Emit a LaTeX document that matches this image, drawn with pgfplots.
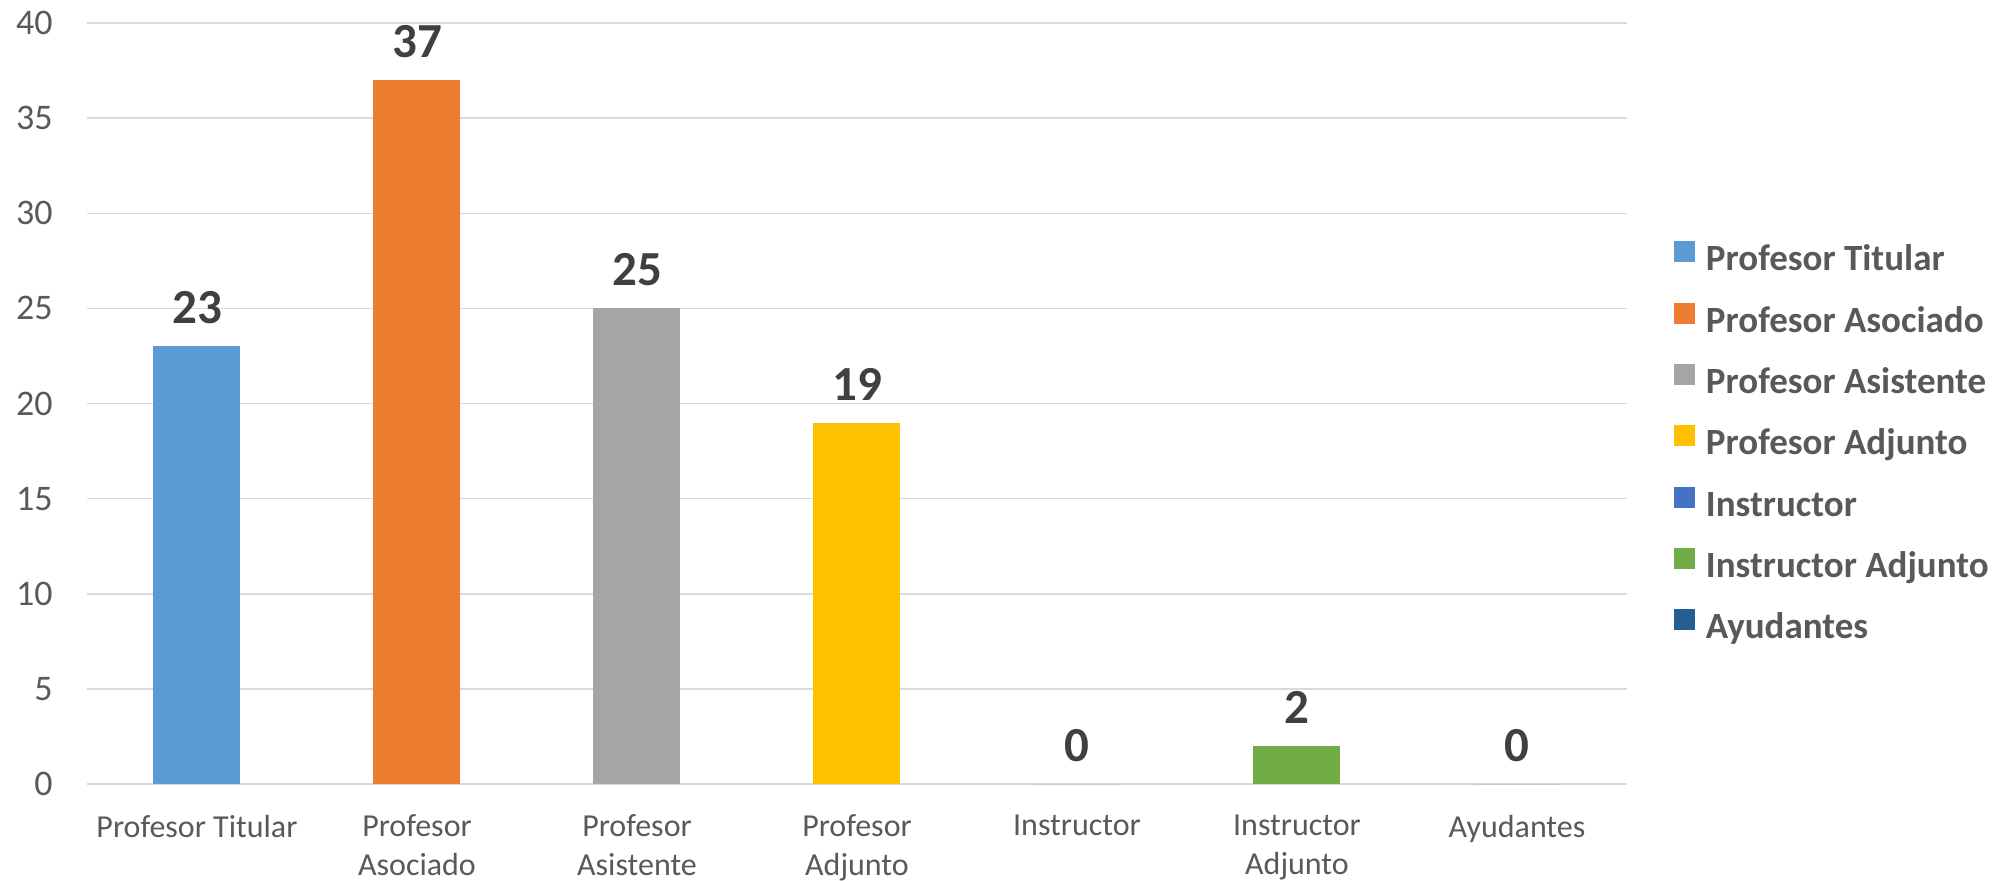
\documentclass[border=0pt]{standalone}
\usepackage{pgfplots}
\pgfplotsset{compat=1.18}
\usepackage{fontspec}
\setmainfont{Carlito}
\definecolor{c1}{HTML}{5B9BD5}
\definecolor{c2}{HTML}{ED7D31}
\definecolor{c3}{HTML}{A5A5A5}
\definecolor{c4}{HTML}{FFC000}
\definecolor{c5}{HTML}{4472C4}
\definecolor{c6}{HTML}{70AD47}
\definecolor{c7}{HTML}{255E91}
\definecolor{tickgray}{HTML}{595959}
\definecolor{labelink}{HTML}{404040}
\definecolor{gridgray}{HTML}{D9D9D9}
\newcommand{\TickFont}{\fontsize{16bp}{19.5bp}\selectfont}
\newcommand{\YTickFont}{\fontsize{18bp}{21bp}\selectfont}
\newcommand{\LegFont}{\bfseries\fontsize{18.5bp}{22bp}\selectfont}
\newcommand{\ValFont}{\bfseries\fontsize{24.5bp}{29bp}\selectfont}
\begin{document}
\begin{tikzpicture}
\begin{axis}[
    at={(0,0)}, anchor=south west,
    scale only axis,
    width=770bp, height=380.5bp,
    ybar,
    bar width=43.5bp,
    xmin=-0.5, xmax=6.5,
    ymin=0, ymax=40,
    ytick={0,5,...,40},
    xtick={0,...,6},
    xticklabels={
        {Profesor Titular},
        {Profesor\\Asociado},
        {Profesor\\Asistente},
        {Profesor\\Adjunto},
        {Instructor},
        {Instructor\\Adjunto},
        {Ayudantes}
    },
    x tick label style={font=\TickFont, text=tickgray, align=center,
        anchor=north, inner sep=0pt, yshift=-11bp},
    y tick label style={font=\YTickFont, text=tickgray, anchor=east,
        inner sep=0pt, xshift=-17bp},
    /pgf/number format/assume math mode=true,
    axis line style={draw=none},
    tick style={draw=none},
    ymajorgrids=true,
    major grid style={draw=gridgray, line width=0.75bp},
    nodes near coords,
    every node near coord/.append style={font=\ValFont, text=labelink,
        anchor=south, inner sep=0pt, yshift=11bp},
    legend cell align=left,
    legend image code/.code={\fill[#1] (0bp,0bp) rectangle (10.5bp,10.5bp);},
    legend style={draw=none, fill=none, inner sep=0pt, outer sep=0pt,
        at={(1.0305,0.446)}, anchor=west,
        font=\LegFont, text=tickgray,
        nodes={inner sep=0pt, text height=13bp, text depth=4.5bp},
        row sep=11.4bp, column sep=5.5bp},
    clip=false
]
\addplot[fill=c1, draw=none, bar shift=0pt] coordinates {(0,23)};
\addplot[fill=c2, draw=none, bar shift=0pt] coordinates {(1,37)};
\addplot[fill=c3, draw=none, bar shift=0pt] coordinates {(2,25)};
\addplot[fill=c4, draw=none, bar shift=0pt] coordinates {(3,19)};
\addplot[fill=c5, draw=none, bar shift=0pt] coordinates {(4,0)};
\addplot[fill=c6, draw=none, bar shift=0pt] coordinates {(5,2)};
\addplot[fill=c7, draw=none, bar shift=0pt] coordinates {(6,0)};
\legend{Profesor Titular, Profesor Asociado, Profesor Asistente,
    Profesor Adjunto, Instructor, Instructor Adjunto, Ayudantes}
\end{axis}
\pgfresetboundingbox
\path[use as bounding box] (-43.5bp,-48.5bp) rectangle (959bp,392bp);
\end{tikzpicture}
\end{document}
